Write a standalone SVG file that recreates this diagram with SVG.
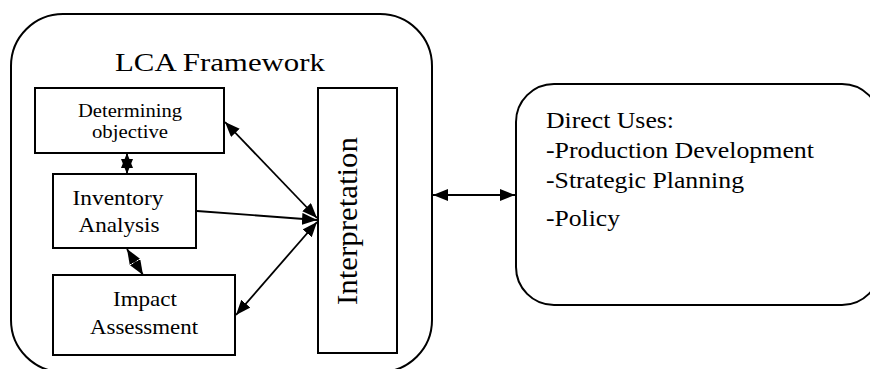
<svg xmlns="http://www.w3.org/2000/svg" width="870" height="369" viewBox="0 0 870 369">
<style>
.box{fill:#fff;stroke:#000;stroke-width:2}
.frame{fill:none;stroke:#000;stroke-width:2}
.t{font-family:"Liberation Serif","Times New Roman",serif;fill:#000}
.c{stroke:#000;stroke-width:1.8;fill:none}
</style>
<defs>
<marker id="ah" markerUnits="userSpaceOnUse" markerWidth="16" markerHeight="13" refX="15" refY="6" orient="auto-start-reverse" viewBox="0 0 16 13">
<path d="M0,0 L15,6 L0,12 z" fill="#000"/>
</marker>
</defs>
<rect width="870" height="369" fill="#fff"/>
<g id="lca-framework">
<rect class="frame" x="11" y="14" width="421" height="358" rx="52" ry="52"/>
<text class="t" x="220" y="71" font-size="26" text-anchor="middle" textLength="210" lengthAdjust="spacingAndGlyphs">LCA Framework</text>
</g>
<g id="determining-objective">
<rect class="box" x="35" y="88" width="189" height="65"/>
<text class="t" x="130" y="117" font-size="19" text-anchor="middle" textLength="104" lengthAdjust="spacingAndGlyphs">Determining</text>
<text class="t" x="130" y="138" font-size="19" text-anchor="middle" textLength="76" lengthAdjust="spacingAndGlyphs">objective</text>
</g>
<g id="inventory-analysis">
<rect class="box" x="53" y="174" width="143" height="74"/>
<text class="t" x="118" y="205" font-size="22" text-anchor="middle" textLength="91" lengthAdjust="spacingAndGlyphs">Inventory</text>
<text class="t" x="119" y="232" font-size="22" text-anchor="middle" textLength="81" lengthAdjust="spacingAndGlyphs">Analysis</text>
</g>
<g id="impact-assessment">
<rect class="box" x="53" y="275" width="182" height="80"/>
<text class="t" x="145" y="306" font-size="22" text-anchor="middle" textLength="64" lengthAdjust="spacingAndGlyphs">Impact</text>
<text class="t" x="144" y="334" font-size="22" text-anchor="middle" textLength="108" lengthAdjust="spacingAndGlyphs">Assessment</text>
</g>
<g id="interpretation">
<rect class="box" x="318" y="88" width="79" height="265"/>
<text class="t" transform="translate(357,221) rotate(-90)" x="0" y="0" font-size="29" text-anchor="middle" textLength="168" lengthAdjust="spacingAndGlyphs">Interpretation</text>
</g>
<g id="direct-uses">
<rect class="frame" x="516" y="84" width="364" height="221" rx="38" ry="38"/>
<text class="t" x="546" y="128" font-size="23" textLength="128" lengthAdjust="spacingAndGlyphs">Direct Uses:</text>
<text class="t" x="546" y="158" font-size="23" textLength="268" lengthAdjust="spacingAndGlyphs">-Production Development</text>
<text class="t" x="546" y="188" font-size="23" textLength="198" lengthAdjust="spacingAndGlyphs">-Strategic Planning</text>
<text class="t" x="546" y="226" font-size="23" textLength="74" lengthAdjust="spacingAndGlyphs">-Policy</text>
</g>
<g id="connectors">
<line class="c" x1="127" y1="153" x2="127" y2="174" marker-start="url(#ah)" marker-end="url(#ah)"/>
<line class="c" x1="225" y1="122" x2="317" y2="218" marker-start="url(#ah)" marker-end="url(#ah)"/>
<line class="c" x1="197" y1="211" x2="317" y2="220" marker-end="url(#ah)"/>
<line class="c" x1="236" y1="315" x2="317" y2="222" marker-start="url(#ah)" marker-end="url(#ah)"/>
<line class="c" x1="127" y1="249" x2="143" y2="275" marker-start="url(#ah)" marker-end="url(#ah)"/>
<line class="c" x1="433" y1="195" x2="515" y2="195" marker-start="url(#ah)" marker-end="url(#ah)"/>
</g>
</svg>
